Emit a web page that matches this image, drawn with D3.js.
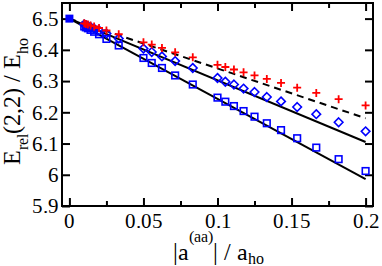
<!DOCTYPE html>
<html lang="en">
<head>
<meta charset="UTF-8">
<title>E_rel(2,2)</title>
<script src="https://d3js.org/d3.v7.min.js"></script>
<style>
  @font-face {
    font-family: "PlotSerif";
    src: local("Liberation Serif"), local("LiberationSerif"), local("LiberationSerif-Regular"),
         local("DejaVu Serif"), local("DejaVuSerif"), local("Times New Roman"), local("TimesNewRomanPSMT");
  }
  body { margin: 0; background: #fff; }
</style>
</head>
<body>
<svg width="382" height="266"></svg>
<script>
// |a(aa)|/a_ho values
var xs = [0.01, 0.0111, 0.0125, 0.0143, 0.0167, 0.02, 0.025, 0.0333, 0.05, 0.0556, 0.0625, 0.0714, 0.0833,
          0.1, 0.1053, 0.1111, 0.1176, 0.125, 0.1333, 0.1429, 0.1538, 0.1667, 0.1818, 0.2]
var plusVals = [6.485, 6.483, 6.481, 6.478, 6.475, 6.470, 6.462, 6.450, 6.424, 6.417, 6.406, 6.392, 6.376,
                6.352, 6.345, 6.337, 6.328, 6.318, 6.307, 6.294, 6.279, 6.262, 6.242, 6.222]
var diamondVals = [6.481, 6.479, 6.476, 6.473, 6.468, 6.462, 6.452, 6.436, 6.404, 6.393, 6.379, 6.364, 6.342,
                   6.310, 6.298, 6.289, 6.276, 6.265, 6.249, 6.235, 6.217, 6.194, 6.168, 6.139]
var squareVals = [6.475, 6.472, 6.469, 6.464, 6.458, 6.450, 6.435, 6.414, 6.374, 6.358, 6.342, 6.318, 6.289,
                  6.247, 6.234, 6.220, 6.204, 6.186, 6.165, 6.143, 6.117, 6.087, 6.050, 6.012]
var exactPoint = [0, 6.5]

// straight lines
var lineX = [0, 0.2]
var dashedLine = [6.5, 6.181]
var midLine = [6.5, 6.105]
var lowLine = [6.5, 5.986]

var xTicks = [0, 0.05, 0.1, 0.15, 0.2]
var xMinor = [0.025, 0.075, 0.125, 0.175]
var yTicks = [5.9, 6, 6.1, 6.2, 6.3, 6.4, 6.5]

var SERIF = 'PlotSerif, "Liberation Serif", "DejaVu Serif", serif'
var L = 62, R = 373, T = 3, B = 206
var x = d3.scaleLinear().domain([-0.005, 0.205]).range([L, R])
var y = d3.scaleLinear().domain([5.9, 6.55]).range([B, T])
var svg = d3.select("svg")

var fmtX = d => d === 0 ? "0" : String(d)
var fmtY = d => String(+d.toFixed(1))

// axes, ticks inward
svg.append("g").attr("transform", "translate(0," + B + ")")
  .call(d3.axisBottom(x).tickValues(xTicks).tickFormat(fmtX).tickSize(-8).tickPadding(7))
svg.append("g").attr("transform", "translate(0," + B + ")")
  .call(d3.axisBottom(x).tickValues(xMinor).tickFormat("").tickSize(-5))
svg.append("g").attr("transform", "translate(0," + T + ")")
  .call(d3.axisTop(x).tickValues(xTicks).tickFormat("").tickSize(-8))
svg.append("g").attr("transform", "translate(0," + T + ")")
  .call(d3.axisTop(x).tickValues(xMinor).tickFormat("").tickSize(-5))
svg.append("g").attr("transform", "translate(" + L + ",0)")
  .call(d3.axisLeft(y).tickValues(yTicks).tickFormat(fmtY).tickSize(-8).tickPadding(3))
svg.append("g").attr("transform", "translate(" + R + ",0)")
  .call(d3.axisRight(y).tickValues(yTicks).tickFormat("").tickSize(-8))

svg.selectAll(".domain").remove()
svg.selectAll("g").attr("font-family", null)
svg.selectAll(".tick line").attr("stroke", "#000").attr("stroke-width", 2)
svg.selectAll(".tick text").style("font-family", SERIF).style("font-size", "21px").attr("fill", "#000")

svg.append("rect").attr("x", L).attr("y", T).attr("width", R - L).attr("height", B - T)
  .attr("fill", "none").attr("stroke", "#000").attr("stroke-width", 2)

// lines
var line = d3.line().x(d => x(d[0])).y(d => y(d[1]))
function drawLine(vals, dash) {
  svg.append("path").datum(lineX.map((v, i) => [v, vals[i]]))
    .attr("d", line).attr("fill", "none").attr("stroke", "#000").attr("stroke-width", 2)
    .attr("stroke-dasharray", dash)
}
drawLine(lowLine, null)
drawLine(midLine, null)
drawLine(dashedLine, "7,5")

// markers
var g = svg.append("g")
g.selectAll(".sq").data(xs.map((v, i) => [v, squareVals[i]])).enter().append("rect")
  .attr("x", d => x(d[0]) - 3.3).attr("y", d => y(d[1]) - 3.3)
  .attr("width", 6.6).attr("height", 6.6)
  .attr("fill", "none").attr("stroke", "#0000ff").attr("stroke-width", 1.6)
g.selectAll(".dm").data(xs.map((v, i) => [v, diamondVals[i]])).enter().append("path")
  .attr("transform", d => "translate(" + x(d[0]) + "," + y(d[1]) + ")")
  .attr("d", "M0,-4.3L4.3,0L0,4.3L-4.3,0Z")
  .attr("fill", "none").attr("stroke", "#0000ff").attr("stroke-width", 1.6)
g.selectAll(".pl").data(xs.map((v, i) => [v, plusVals[i]])).enter().append("path")
  .attr("transform", d => "translate(" + x(d[0]) + "," + y(d[1]) + ")")
  .attr("d", "M-4,0H4M0,-4V4")
  .attr("fill", "none").attr("stroke", "#ff0000").attr("stroke-width", 1.8)
g.append("rect")
  .attr("x", x(exactPoint[0]) - 4).attr("y", y(exactPoint[1]) - 4)
  .attr("width", 8).attr("height", 8).attr("fill", "#0000ff")

// axis titles
var xt = svg.append("text").attr("x", 218).attr("y", 260).attr("text-anchor", "middle")
  .style("font-family", SERIF).style("font-size", "24px")
xt.append("tspan").text("|a")
xt.append("tspan").attr("dy", -18).style("font-size", "16px").text("(aa)")
xt.append("tspan").attr("dy", 18).text("| / a")
xt.append("tspan").attr("dy", 4).style("font-size", "16px").text("ho")

var yt = svg.append("text").attr("transform", "translate(20,101) rotate(-90)")
  .attr("text-anchor", "middle").style("font-family", SERIF).style("font-size", "24px")
yt.append("tspan").text("E")
yt.append("tspan").attr("dy", 8).style("font-size", "16px").text("rel")
yt.append("tspan").attr("dy", -8).text("(2,2) / E")
yt.append("tspan").attr("dy", 8).style("font-size", "16px").text("ho")
</script>
</body>
</html>
